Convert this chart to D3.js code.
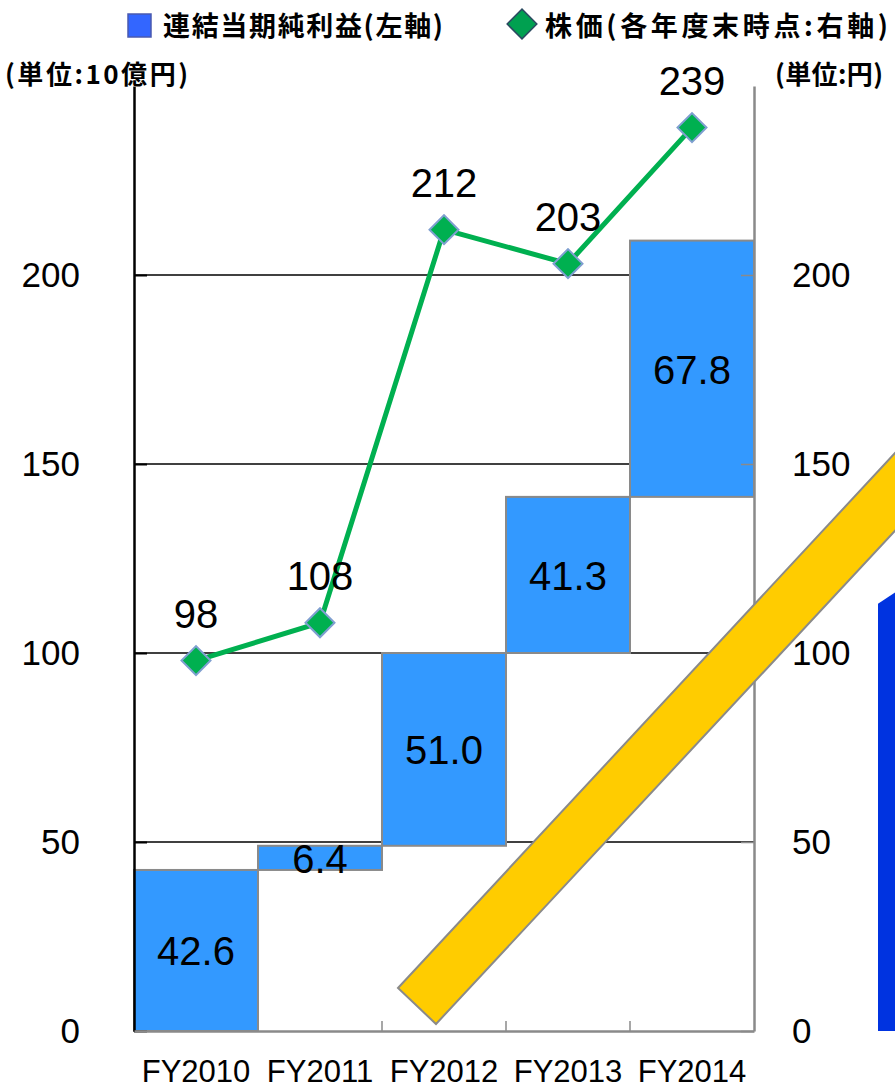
<!DOCTYPE html>
<html>
<head>
<meta charset="utf-8">
<script src="https://cdn.jsdelivr.net/npm/d3@7"></script>
<style>
  body { margin: 0; background: #fff; }
  text { font-family: "Liberation Sans", Arial, sans-serif; }
  .jp { font-family: "Noto Sans CJK JP", sans-serif; font-weight: bold; }
</style>
</head>
<body>
<div id="chart"></div>
<script>
// data
var categories = ["FY2010", "FY2011", "FY2012", "FY2013", "FY2014"];
var profit = [42.6, 6.4, 51.0, 41.3, 67.8];   // 10億円, left axis
var price = [98, 108, 212, 203, 239];          // 円, right axis
var yTicks = [0, 50, 100, 150, 200];

var W = 895, H = 1091;
var margin = { top: 86, right: 141, bottom: 60, left: 134 },
    width = W - margin.left - margin.right,
    height = H - margin.top - margin.bottom;

var root = d3.select("#chart").append("svg")
    .attr("width", W)
    .attr("height", H);

var svg = root.append("g")
    .attr("transform", "translate(" + margin.left + "," + margin.top + ")");

var x = d3.scaleBand()
    .domain(categories)
    .range([0, width])
    .padding(0);

var y = d3.scaleLinear().domain([0, 250]).range([height, 0]);
var y2 = d3.scaleLinear().domain([0, 250]).range([height, 0]);

// waterfall: each bar starts where the previous ends
var ends = Array.from(d3.cumsum(profit));
var bars = categories.map(function (c, i) {
    return { cat: c, v: profit[i], start: ends[i] - profit[i], end: ends[i] };
});

// grid lines
svg.selectAll(".grid")
    .data(yTicks.filter(function (d) { return d > 0; }))
    .enter().append("line")
    .attr("x1", 0)
    .attr("x2", width)
    .attr("y1", function (d) { return y(d); })
    .attr("y2", function (d) { return y(d); })
    .attr("stroke", "#000")
    .attr("stroke-width", 1.5);

// bars
svg.selectAll(".bar")
    .data(bars)
    .enter().append("rect")
    .attr("x", function (d) { return x(d.cat); })
    .attr("width", x.bandwidth())
    .attr("y", function (d) { return y(d.end); })
    .attr("height", function (d) { return y(d.start) - y(d.end); })
    .attr("fill", "#3399ff")
    .attr("stroke", "#8a8a8a")
    .attr("stroke-width", 2);

svg.selectAll(".barlabel")
    .data(bars)
    .enter().append("text")
    .attr("x", function (d) { return x(d.cat) + x.bandwidth() / 2; })
    .attr("y", function (d) { return (y(d.start) + y(d.end)) / 2 + 15; })
    .attr("text-anchor", "middle")
    .attr("font-size", 40)
    .attr("fill", "#000")
    .text(function (d) { return d.v.toFixed(1); });

// axes
var left = svg.append("g")
    .call(d3.axisLeft(y).tickValues(yTicks).tickSize(-13).tickSizeOuter(0)
        .tickPadding(54).tickFormat(d3.format("d")));
left.select(".domain").attr("stroke", "#000").attr("stroke-width", 2.5);
left.selectAll(".tick line").attr("stroke", "#000").attr("stroke-width", 2);
left.selectAll(".tick text").attr("font-size", 35).attr("fill", "#000")
    .attr("font-family", "Liberation Sans, Arial, sans-serif");

var right = svg.append("g")
    .attr("transform", "translate(" + width + ",0)")
    .call(d3.axisRight(y2).tickValues(yTicks).tickSize(-13).tickSizeOuter(0)
        .tickPadding(38).tickFormat(d3.format("d")));
right.select(".domain").attr("stroke", "#8a8a8a").attr("stroke-width", 2.5);
right.selectAll(".tick line").attr("stroke", "#8a8a8a").attr("stroke-width", 1.5);
right.selectAll(".tick text").attr("font-size", 35).attr("fill", "#000")
    .attr("font-family", "Liberation Sans, Arial, sans-serif");

var bottom = svg.append("g")
    .attr("transform", "translate(0," + height + ")")
    .call(d3.axisBottom(x).tickSize(0).tickPadding(29));
bottom.select(".domain").attr("stroke", "#8a8a8a").attr("stroke-width", 2.5);
bottom.selectAll(".tick text").attr("font-size", 31).attr("fill", "#000")
    .attr("font-family", "Liberation Sans, Arial, sans-serif");

// inner ticks between categories
svg.selectAll(".ctick")
    .data(categories.slice(1))
    .enter().append("line")
    .attr("x1", function (d) { return x(d); })
    .attr("x2", function (d) { return x(d); })
    .attr("y1", height)
    .attr("y2", height - 10)
    .attr("stroke", "#8a8a8a")
    .attr("stroke-width", 1.5);

// price line
var cx = function (i) { return x(categories[i]) + x.bandwidth() / 2; };
var line = d3.line()
    .x(function (d, i) { return cx(i); })
    .y(function (d) { return y2(d); });

svg.append("path")
    .datum(price)
    .attr("d", line)
    .attr("fill", "none")
    .attr("stroke", "#00b050")
    .attr("stroke-width", 5);

var diamond = d3.symbol().type(d3.symbolSquare).size(420);
svg.selectAll(".pt")
    .data(price)
    .enter().append("path")
    .attr("d", diamond)
    .attr("transform", function (d, i) {
        return "translate(" + cx(i) + "," + y2(d) + ") rotate(45)";
    })
    .attr("fill", "#00b050")
    .attr("stroke", "#7f9fd0")
    .attr("stroke-width", 2);

svg.selectAll(".ptlabel")
    .data(price)
    .enter().append("text")
    .attr("x", function (d, i) { return cx(i); })
    .attr("y", function (d) { return y2(d) - 33; })
    .attr("text-anchor", "middle")
    .attr("font-size", 40)
    .attr("fill", "#000")
    .text(function (d) { return d; });

// decorations: yellow band and blue block at the right edge
root.append("path")
    .attr("d", "M398,988 L960,383 L960,461 L436,1024 Z")
    .attr("fill", "#ffcc00")
    .attr("stroke", "#8a8a8a")
    .attr("stroke-width", 2);

root.append("path")
    .attr("d", "M878," + (margin.top + y(113)) + " L895," + (margin.top + y(116)) +
        " L895," + (margin.top + height) + " L878," + (margin.top + height) + " Z")
    .attr("fill", "#0033e0");

// legend
root.append("rect")
    .attr("x", 128).attr("y", 14)
    .attr("width", 23).attr("height", 23)
    .attr("fill", "#3366ff")
    .attr("stroke", "#4a5ab0")
    .attr("stroke-width", 1.5);
root.append("text").attr("class", "jp")
    .attr("x", 163).attr("y", 36)
    .attr("font-size", 27)
    .attr("textLength", 280)
    .attr("lengthAdjust", "spacing")
    .text("連結当期純利益(左軸)");

root.append("path")
    .attr("d", d3.symbol().type(d3.symbolSquare).size(440))
    .attr("transform", "translate(522,24) rotate(45)")
    .attr("fill", "#00a050")
    .attr("stroke", "#2a4a60")
    .attr("stroke-width", 1.5);
root.append("text").attr("class", "jp")
    .attr("x", 545).attr("y", 36)
    .attr("font-size", 27)
    .attr("textLength", 343)
    .attr("lengthAdjust", "spacing")
    .text("株価(各年度末時点:右軸)");

// unit labels
root.append("text").attr("class", "jp")
    .attr("x", 5).attr("y", 84)
    .attr("font-size", 26)
    .attr("textLength", 183)
    .attr("lengthAdjust", "spacing")
    .text("(単位:10億円)");
root.append("text").attr("class", "jp")
    .attr("x", 775).attr("y", 84)
    .attr("font-size", 26)
    .attr("textLength", 108)
    .attr("lengthAdjust", "spacing")
    .text("(単位:円)");
</script>
</body>
</html>
